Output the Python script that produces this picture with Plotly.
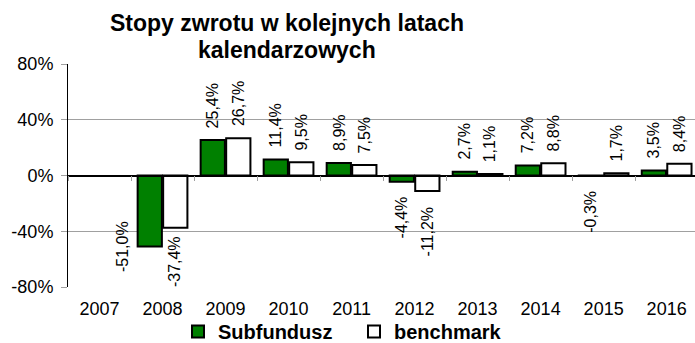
import plotly.graph_objects as go

# ---- data -------------------------------------------------------------
years = ["2007", "2008", "2009", "2010", "2011", "2012", "2013", "2014", "2015", "2016"]
subfundusz = [None, -51.0, 25.4, 11.4, 8.9, -4.4, 2.7, 7.2, -0.3, 3.5]
benchmark = [None, -37.4, 26.7, 9.5, 7.5, -11.2, 1.1, 8.8, 1.7, 8.4]
y_ticks = [-80, -40, 0, 40, 80]
y_tick_text = [f"{t}%" for t in y_ticks]

title_lines = ["Stopy zwrotu w kolejnych latach", "kalendarzowych"]
series_names = ["Subfundusz", "benchmark"]

# ---- geometry / style -------------------------------------------------
W, H = 695, 343
M_L, M_R, M_T, M_B = 68, 0, 64, 56
PLOT_W = W - M_L - M_R
PLOT_H = H - M_T - M_B
Y_MIN, Y_MAX = -80, 80
X_RANGE = [-0.5, 9.45]
PX_PER_UNIT = PLOT_H / (Y_MAX - Y_MIN)
PX_PER_CAT = PLOT_W / (X_RANGE[1] - X_RANGE[0])

BARGAP = 0.19
BARGROUPGAP = 0.05
BAR_OFFSET = PX_PER_CAT * (1 - BARGAP) / 4  # centre of each bar from category centre

FONT = "Arial, Liberation Sans, sans-serif"
GREEN = "#008000"
GRID = "#a0a0a0"
TICK_SIZE = 18
LABEL_SIZE = 16
GAP_POS, GAP_NEG = 12, 15

# Arial advance widths (em) for the characters used in value labels
ARIAL_W = {**{d: 0.556 for d in "0123456789"}, ",": 0.278, "%": 0.889, "-": 0.333}


def fmt(v):
    return f"{v:.1f}".replace(".", ",") + "%"


def text_len(s, size=LABEL_SIZE):
    return sum(ARIAL_W.get(c, 0.556) for c in s) * size


def value_px_from_bottom(v):
    return (v - Y_MIN) * PX_PER_UNIT


fig = go.Figure()
fig.add_trace(go.Bar(
    x=years, y=subfundusz, name=series_names[0],
    marker=dict(color=GREEN, line=dict(color="black", width=2)),
    hoverinfo="skip",
))
fig.add_trace(go.Bar(
    x=years, y=benchmark, name=series_names[1],
    marker=dict(color="white", line=dict(color="black", width=2)),
    hoverinfo="skip",
))
# carrier trace for the category axis drawn along the zero line
fig.add_trace(go.Scatter(x=years, y=[None] * len(years), xaxis="x2",
                         showlegend=False, hoverinfo="skip", mode="markers"))

annotations = []
for values, side in ((subfundusz, -1), (benchmark, 1)):
    for i, v in enumerate(values):
        if v is None:
            continue
        txt = fmt(v)
        length = text_len(txt)
        base = dict(x=i, y=v, xref="x", yref="y", text=txt, showarrow=False,
                    textangle=-90, borderpad=0, borderwidth=0,
                    font=dict(family=FONT, size=LABEL_SIZE, color="black"))
        if v >= 0:
            annotations.append(dict(base, xshift=side * BAR_OFFSET,
                                    yanchor="bottom", yshift=GAP_POS))
        else:
            room = value_px_from_bottom(v)  # pixels between bar end and axis bottom
            if room >= length + GAP_NEG:
                annotations.append(dict(base, xshift=side * BAR_OFFSET,
                                        yanchor="top", yshift=-GAP_NEG))
            elif room >= length:
                # pull the label up so it ends on the bottom of the axis
                annotations.append(dict(base, xshift=side * BAR_OFFSET,
                                        yanchor="top", yshift=-(room - length)))
            else:
                # no room below: set the label beside the bar, level with its end
                annotations.append(dict(base, xanchor="right", yanchor="middle",
                                        xshift=side * BAR_OFFSET - PX_PER_CAT * (1 - BARGAP) / 4 - 6))

# two-line chart title
title_cx = (287 - M_L) / PLOT_W
for line, ypx in zip(title_lines, (23, 50)):
    annotations.append(dict(
        text=f"<b>{line}</b>", x=title_cx, y=(H - M_B - ypx) / PLOT_H,
        xref="paper", yref="paper", xanchor="center", yanchor="middle",
        showarrow=False, font=dict(family=FONT, size=23, color="black"),
    ))

fig.update_layout(
    width=W, height=H,
    margin=dict(l=M_L, r=M_R, t=M_T, b=M_B, pad=0, autoexpand=False),
    paper_bgcolor="white", plot_bgcolor="white",
    barmode="group", bargap=BARGAP, bargroupgap=BARGROUPGAP,
    font=dict(family=FONT, size=TICK_SIZE, color="black"),
    showlegend=True,
    legend=dict(
        orientation="h", x=(178 - M_L) / PLOT_W, xanchor="left",
        y=(H - M_B - 331.5) / PLOT_H, yanchor="middle",
        font=dict(family=FONT, size=20, color="black", weight="bold"),
        bgcolor="rgba(0,0,0,0)", itemwidth=30, traceorder="normal",
        entrywidth=131, entrywidthmode="pixels",
    ),
    xaxis=dict(
        type="category", categoryorder="array", categoryarray=years,
        range=X_RANGE, showline=False, showgrid=False, zeroline=False,
        ticks="", ticklabelstandoff=9, tickfont=dict(size=TICK_SIZE),
    ),
    xaxis2=dict(
        type="category", categoryorder="array", categoryarray=years,
        range=X_RANGE, overlaying="x", anchor="free", position=0.5,
        showline=True, linecolor="black", linewidth=1.5,
        ticks="outside", tickson="boundaries", ticklen=5, tickcolor=GRID,
        showticklabels=False, showgrid=False, zeroline=False,
    ),
    yaxis=dict(
        range=[Y_MIN, Y_MAX], tickmode="array", tickvals=y_ticks, ticktext=y_tick_text,
        showline=True, linecolor="black", linewidth=1,
        ticks="outside", ticklen=6, tickcolor=GRID,
        showgrid=True, gridcolor=GRID, gridwidth=1, zeroline=False,
        ticklabelstandoff=4, tickfont=dict(size=TICK_SIZE),
    ),
    annotations=annotations,
)

fig.write_html("out.html")
